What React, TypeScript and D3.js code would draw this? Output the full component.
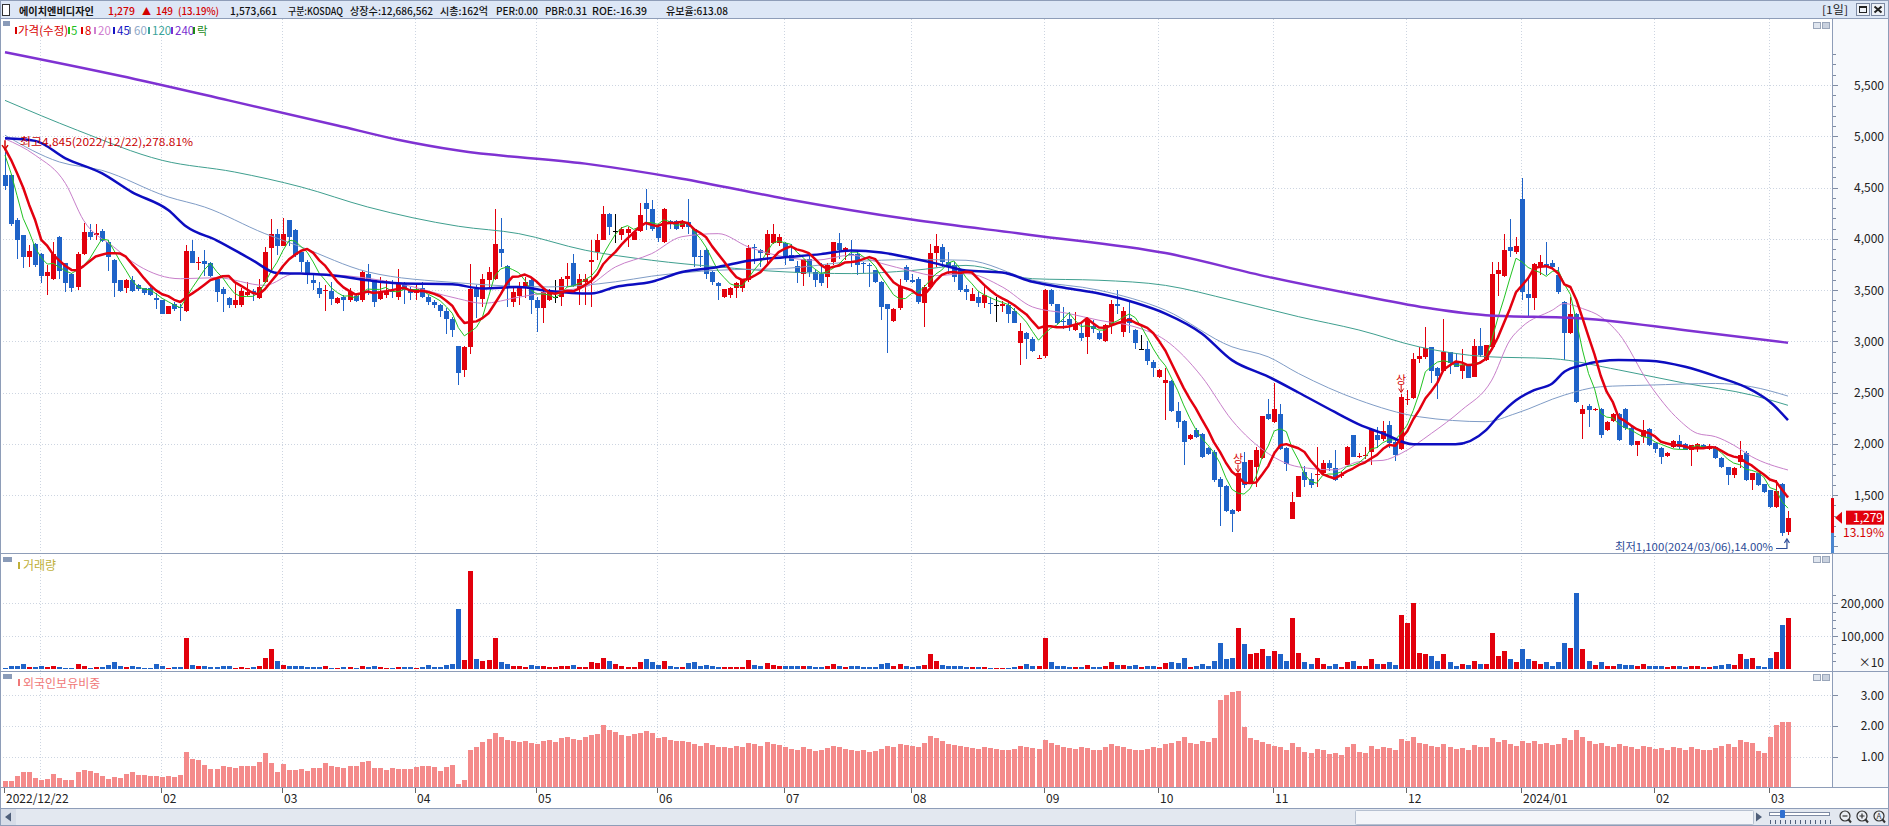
import React from "react";
import * as d3 from "d3";

const W = 1889;
const H = 826;
const F = "'Noto Sans CJK KR','Noto Sans',sans-serif";

// daily candles [open, high, low, close], 2022/12/22 .. 2024/03/07
const ohlc: [number, number, number, number][] = [
  [4620,4845,4480,4510],[4620,4630,4120,4140],[4180,4200,3800,3985],[4035,4040,3710,3823],[3823,3935,3725,3880],[3950,3955,3720,3740],[3850,3860,3565,3640],[3640,3740,3450,3680],[3610,3970,3595,3855],[4020,4025,3610,3690],
  [3760,3765,3480,3570],[3660,3665,3480,3515],[3530,3870,3500,3850],[3850,4150,3840,4065],[4065,4140,3990,4020],[4040,4140,3990,4055],[4075,4100,3970,3980],[3970,3985,3690,3823],[3790,3800,3430,3570],[3595,3600,3480,3490],
  [3515,3610,3470,3595],[3595,3640,3480,3490],[3550,3555,3490,3505],[3515,3520,3450,3470],[3515,3530,3440,3450],[3420,3470,3310,3400],[3400,3405,3270,3270],[3270,3345,3265,3340],[3360,3380,3300,3310],[3335,3365,3200,3320],
  [3295,3935,3285,3880],[3880,3985,3760,3765],[3765,3820,3700,3770],[3780,3890,3640,3755],[3760,3775,3630,3635],[3605,3625,3385,3480],[3505,3530,3290,3465],[3420,3435,3320,3350],[3350,3580,3320,3400],[3350,3520,3335,3490],
  [3450,3580,3440,3480],[3490,3510,3390,3470],[3425,3610,3415,3530],[3580,3920,3570,3870],[3905,4195,3700,4050],[4050,4100,3840,3930],[3930,4205,3925,4050],[4180,4185,3930,4020],[4090,4100,3825,3840],[3870,3875,3680,3775],
  [3775,3790,3560,3660],[3600,3660,3500,3570],[3515,3580,3420,3465],[3490,3550,3300,3500],[3495,3580,3350,3410],[3370,3430,3365,3425],[3430,3450,3300,3400],[3400,3515,3385,3480],[3440,3450,3380,3395],[3400,3695,3380,3675],
  [3660,3750,3450,3595],[3595,3600,3335,3385],[3415,3630,3400,3480],[3450,3600,3420,3490],[3495,3600,3420,3490],[3435,3705,3400,3565],[3565,3580,3360,3500],[3505,3530,3400,3470],[3470,3550,3400,3505],[3515,3580,3420,3435],
  [3435,3450,3350,3385],[3385,3400,3320,3350],[3350,3360,3240,3300],[3300,3320,3075,3220],[3220,3235,3040,3110],[2950,2955,2570,2686],[2715,2950,2650,2945],[2945,3750,2880,3505],[3505,3545,3230,3435],[3415,3660,3335,3605],
  [3595,3725,3520,3680],[3610,4295,3595,3945],[3900,4205,3725,3860],[3735,3740,3335,3530],[3385,3530,3335,3480],[3440,3580,3350,3525],[3515,3630,3420,3580],[3595,3630,3270,3400],[3405,3430,3095,3320],[3320,3530,3180,3480],
  [3405,3505,3395,3480],[3435,3595,3370,3435],[3435,3630,3345,3610],[3610,3765,3530,3640],[3760,3850,3525,3535],[3515,3660,3350,3610],[3580,3660,3350,3610],[3775,3990,3335,3790],[3870,4050,3790,3990],[3990,4315,3985,4245],
  [4245,4250,4035,4115],[4080,4245,3955,4080],[4035,4115,3990,4100],[4060,4115,3920,4100],[3990,4080,3985,4065],[4080,4345,4065,4230],[4345,4490,4085,4295],[4295,4375,4080,4100],[4115,4145,3970,4010],[3970,4300,3955,4290],
  [4175,4180,4100,4140],[4175,4180,4085,4100],[4110,4185,4100,4165],[4165,4390,4050,4115],[4100,4105,3725,3825],[3830,3890,3725,3820],[3895,3905,3610,3660],[3675,3690,3545,3580],[3570,3580,3400,3535],[3435,3510,3425,3505],
  [3450,3530,3425,3515],[3515,3580,3425,3565],[3515,3610,3480,3595],[3595,3940,3580,3905],[3920,3945,3750,3915],[3895,3900,3725,3860],[3840,4085,3740,4045],[3955,4140,3950,4050],[3955,4050,3930,4020],[3960,3965,3740,3830],
  [3840,3950,3785,3785],[3730,3785,3570,3665],[3655,3800,3540,3800],[3800,3855,3630,3680],[3680,3700,3530,3595],[3655,3760,3535,3570],[3630,3760,3520,3740],[3775,3970,3745,3970],[3960,4055,3800,3890],[3870,3920,3790,3905],
  [3850,3985,3725,3840],[3855,3870,3645,3740],[3760,3775,3665,3750],[3745,3760,3530,3735],[3695,3700,3565,3580],[3580,3585,3205,3335],[3360,3365,2890,3310],[3200,3320,3190,3310],[3320,3610,3305,3535],[3725,3740,3580,3595],
  [3600,3660,3565,3580],[3610,3630,3365,3385],[3370,3545,3140,3530],[3530,3950,3515,3860],[3860,4045,3725,3925],[3920,3950,3725,3775],[3775,3870,3660,3725],[3740,3775,3580,3630],[3695,3700,3485,3500],[3505,3545,3400,3480],
  [3395,3515,3390,3465],[3430,3480,3335,3370],[3370,3545,3320,3455],[3375,3435,3270,3360],[3350,3435,3190,3350],[3345,3390,3290,3360],[3350,3370,3175,3265],[3300,3320,3175,3180],[2980,3180,2770,3100],[3080,3090,2830,3025],
  [3025,3040,2895,2905],[2835,2865,2825,2840],[2855,3510,2840,3500],[3500,3510,3345,3360],[3360,3365,3170,3180],[3200,3335,3120,3190],[3220,3285,3100,3155],[3110,3285,3100,3155],[3085,3170,3000,3035],[3040,3235,2880,3220],
  [3150,3205,3085,3115],[3085,3100,3010,3020],[3005,3170,2995,3155],[3155,3400,3075,3360],[3360,3500,3270,3340],[3095,3335,3045,3295],[3230,3400,3080,3180],[3110,3115,2920,2980],[2920,3060,2910,2920],[2920,3000,2765,2810],
  [2800,2815,2655,2735],[2650,2730,2640,2715],[2595,2735,2230,2625],[2615,2620,2310,2320],[2320,2410,2150,2215],[2225,2230,1790,2020],[2050,2100,2040,2085],[2135,2150,2060,2070],[2100,2105,1860,1875],[1955,1970,1890,1900],
  [1920,1935,1630,1645],[1660,1680,1200,1580],[1590,1600,1330,1340],[1350,1365,1140,1315],[1340,1710,1330,1710],[1825,1920,1570,1600],[1630,1840,1615,1840],[1775,1965,1580,1940],[1860,2275,1850,2270],[2290,2440,2230,2240],
  [2215,2590,2205,2335],[2295,2390,1940,1945],[1955,1965,1730,1800],[1265,1530,1265,1435],[1485,1690,1480,1685],[1725,1780,1575,1650],[1660,1710,1570,1600],[1695,1970,1580,1705],[1710,1845,1695,1810],[1810,1845,1730,1760],
  [1760,1935,1640,1645],[1690,1720,1665,1700],[1795,1975,1790,1970],[2085,2090,1870,1875],[1875,1905,1860,1880],[1885,1970,1855,1890],[1915,2140,1790,2130],[2090,2160,1960,2040],[2050,2220,2030,2120],[2185,2220,1960,2010],
  [2020,2035,1835,1890],[1945,2490,1940,2455],[2430,2525,2380,2440],[2450,2885,2440,2830],[2830,2945,2790,2855],[2850,3135,2830,2930],[2940,2945,2590,2710],[2735,2750,2440,2660],[2710,3220,2700,2895],[2895,2900,2685,2785],
  [2800,2880,2745,2750],[2710,2925,2630,2765],[2765,2770,2640,2645],[2655,3025,2650,2950],[2950,3125,2850,2865],[2815,2965,2810,2960],[2945,3775,2930,3660],[3655,3775,3440,3695],[3635,4050,3630,3890],[3920,4195,3825,3880],
  [3870,4020,3850,3925],[4390,4590,3400,3480],[3465,3610,3240,3425],[3420,3760,3305,3750],[3725,3845,3645,3775],[3750,3965,3645,3735],[3765,3790,3705,3720],[3645,3725,3465,3480],[3385,3395,2815,3080],[3080,3430,3070,3270],
  [3270,3275,2400,2410],[2295,2375,2050,2335],[2365,2385,2165,2330],[2330,2345,2320,2335],[2335,2345,2055,2085],[2135,2220,2125,2215],[2225,2300,2215,2295],[2295,2300,2025,2035],[2335,2345,2130,2150],[2150,2160,1975,1990],
  [1990,2030,1880,2030],[2070,2235,2005,2135],[2140,2150,1980,1990],[2005,2010,1905,1945],[1955,1970,1805,1875],[1880,1915,1875,1910],[1970,2040,1955,2030],[2030,2085,1945,1965],[2000,2005,1935,1940],[1940,1985,1785,1985],
  [1955,2010,1920,1995],[1985,1995,1945,1955],[1945,2000,1940,1970],[1970,1975,1855,1865],[1865,1870,1760,1770],[1770,1775,1600,1695],[1695,1775,1665,1760],[1825,2030,1760,1890],[1910,1930,1640,1645],[1650,1715,1550,1710],
  [1710,1715,1585,1595],[1605,1610,1520,1530],[1545,1550,1375,1380],[1380,1645,1375,1540],[1610,1620,1100,1130],[1135,1340,1105,1279],
];

// volume (axis units, x10 shares)
const volume: number[] = [
  3000,10000,8000,15000,6000,5000,8000,6000,9000,5000,
  4000,3000,15000,9000,3000,5000,5000,11000,21000,8000,
  5000,8000,5000,4000,2000,15000,8000,2000,5000,5000,
  94000,11000,8000,8000,5000,5000,8000,8000,3000,5000,
  3000,5000,8000,33000,61000,23000,12000,8000,8000,8000,
  5000,5000,5000,8000,2000,3000,5000,5000,2000,8000,
  5000,8000,5000,3000,4000,5000,5000,5000,3000,5000,
  11000,5000,5000,11000,15000,182000,26000,298000,30000,23000,
  26000,94000,20000,15000,10000,8000,7000,12000,10000,9000,
  6000,6000,10000,8000,12000,6000,5000,20000,18000,35000,
  25000,15000,8000,7000,6000,20000,30000,20000,12000,25000,
  8000,6000,6000,18000,20000,8000,12000,8000,6000,5000,
  5000,5000,6000,28000,12000,8000,18000,12000,8000,10000,
  8000,8000,10000,8000,6000,6000,10000,15000,10000,6000,
  8000,8000,5000,6000,6000,15000,18000,8000,15000,10000,
  6000,10000,12000,45000,25000,12000,8000,8000,10000,5000,
  5000,5000,6000,4000,4000,4000,4000,6000,8000,15000,
  8000,8000,94000,20000,10000,8000,6000,6000,6000,12000,
  6000,5000,8000,20000,12000,12000,8000,12000,6000,10000,
  10000,5000,18000,20000,18000,35000,6000,8000,15000,8000,
  25000,80000,30000,35000,125000,75000,45000,50000,60000,40000,
  55000,45000,25000,155000,50000,20000,15000,35000,15000,10000,
  15000,5000,20000,25000,8000,8000,30000,15000,15000,20000,
  12000,165000,140000,200000,50000,45000,40000,25000,45000,20000,
  10000,15000,12000,25000,15000,15000,110000,40000,55000,30000,
  20000,60000,30000,25000,15000,20000,10000,20000,80000,65000,
  230000,60000,25000,12000,20000,10000,10000,15000,12000,12000,
  8000,15000,10000,8000,10000,5000,10000,8000,6000,10000,
  8000,5000,5000,8000,12000,15000,12000,45000,30000,33000,
  9000,5000,35000,52000,134000,155000,
];

// foreign holding ratio (%)
const foreign: number[] = [
  .22,.22,.37,.49,.49,.30,.24,.28,.43,.30,
  .24,.24,.49,.56,.53,.46,.37,.27,.33,.30,
  .43,.49,.40,.40,.37,.37,.33,.37,.33,.40,
  1.14,.91,.88,.72,.60,.60,.69,.66,.62,.69,
  .69,.69,.82,1.12,.78,.49,.75,.56,.56,.59,
  .53,.62,.62,.78,.69,.66,.62,.69,.69,.82,
  .85,.62,.62,.56,.62,.59,.59,.59,.66,.69,
  .69,.66,.53,.66,.72,.11,.24,1.20,1.30,1.46,
  1.56,1.75,1.62,1.55,1.50,1.48,1.52,1.45,1.42,1.50,
  1.55,1.48,1.60,1.65,1.58,1.55,1.62,1.70,1.72,2.02,
  1.85,1.80,1.70,1.68,1.72,1.78,1.82,1.75,1.60,1.65,
  1.55,1.50,1.52,1.48,1.40,1.35,1.45,1.38,1.30,1.32,
  1.28,1.35,1.30,1.45,1.40,1.35,1.48,1.42,1.38,1.30,
  1.25,1.22,1.30,1.25,1.18,1.20,1.28,1.35,1.30,1.25,
  1.22,1.18,1.20,1.15,1.18,1.25,1.35,1.30,1.40,1.38,
  1.35,1.30,1.45,1.68,1.60,1.50,1.42,1.38,1.35,1.30,
  1.28,1.25,1.30,1.28,1.25,1.22,1.20,1.25,1.35,1.30,
  1.28,1.25,1.55,1.45,1.38,1.30,1.28,1.25,1.32,1.28,
  1.22,1.20,1.30,1.40,1.35,1.30,1.25,1.22,1.20,1.25,
  1.30,1.28,1.40,1.45,1.50,1.62,1.45,1.40,1.52,1.48,
  1.60,2.85,3.00,3.10,3.12,1.95,1.60,1.55,1.48,1.40,
  1.35,1.30,1.20,1.45,1.30,1.15,1.10,1.25,1.20,1.08,
  1.12,1.05,1.30,1.42,1.15,1.10,1.35,1.25,1.30,1.28,
  1.20,1.58,1.52,1.62,1.45,1.40,1.35,1.30,1.42,1.32,
  1.25,1.28,1.22,1.38,1.30,1.32,1.60,1.48,1.55,1.42,
  1.35,1.52,1.45,1.50,1.40,1.45,1.38,1.42,1.60,1.55,
  1.85,1.62,1.50,1.40,1.45,1.35,1.32,1.40,1.35,1.30,
  1.25,1.35,1.30,1.25,1.28,1.22,1.30,1.28,1.22,1.30,
  1.25,1.20,1.22,1.28,1.35,1.40,1.30,1.55,1.48,1.43,
  1.17,1.10,1.65,2.03,2.11,2.11,
];

// first values of the short averages (their windows start before the chart)
const ma5Head = [4815, 4640, 4420, 4200];
const ma8Head = [4880, 4770, 4640, 4500, 4330, 4180, 3990, 3930];

// long moving averages: [day index, value]
const ma20Pts: [number, number][] = [
  [0,4975],[5,4815],[10,4540],[13,4180],[18,3920],[22,3740],[29,3610],[35,3620],[43,3545],[48,3660],[54,3650],[65,3565],[75,3415],
  [79,3370],[85,3430],[90,3480],[96,3530],[101,3725],[107,3855],[112,4020],[118,4050],[123,3920],[129,3823],[134,3790],[140,3840],[145,3760],[150,3685],
  [154,3640],[159,3660],[165,3530],[170,3335],[176,3270],[181,3205],[187,3140],[192,3010],[198,2655],[203,2230],[209,1905],[214,1775],[220,1745],[224,1825],
  [228,1838],[231,1906],[236,2101],[241,2328],[246,2621],[249,3011],[251,3141],[256,3303],[258,3368],[261,3319],[264,3240],[267,3076],[272,2588],[277,2231],
  [280,2101],[283,2069],[286,1987],[289,1874],[295,1744],
];
const ma45Pts: [number, number][] = [
  [0,4980],[5,4955],[10,4785],[16,4640],[21,4455],[27,4280],[30,4120],[35,3985],[41,3790],[45,3665],[49,3660],[54,3645],[60,3595],[65,3565],[74,3555],
  [79,3515],[85,3530],[90,3490],[97,3465],[101,3530],[107,3580],[112,3675],[118,3725],[123,3785],[129,3820],[135,3850],[140,3885],[145,3865],[150,3810],
  [154,3760],[159,3690],[165,3670],[170,3580],[176,3515],[181,3465],[187,3375],[192,3270],[198,3076],[203,2816],[209,2655],[214,2500],[220,2310],[224,2190],
  [228,2100],[233,1995],[240,1995],[245,2130],[247,2262],[250,2425],[253,2523],[256,2588],[258,2702],[261,2767],[267,2816],[272,2810],[278,2751],[283,2660],
  [289,2524],[292,2410],[295,2231],
];
const ma60Pts: [number, number][] = [
  [0,5010],[9,4749],[16,4668],[27,4408],[33,4310],[43,4050],[49,3920],[60,3677],[75,3570],
  [90,3530],[101,3580],[107,3635],[118,3693],[129,3710],[140,3775],[150,3797],
  [159,3790],[170,3595],[181,3498],[192,3303],[203,2946],[209,2848],[214,2686],[224,2426],
  [234,2263],[245,2215],[250,2296],[258,2475],[264,2556],[272,2572],[283,2588],[289,2556],[295,2465],
];
const ma120Pts: [number, number][] = [
  [0,5350],[12,5058],[26,4765],[38,4651],[49,4505],[60,4310],[75,4122],
  [85,4050],[96,3888],[107,3790],[118,3725],[129,3677],[140,3660],[150,3690],
  [159,3740],[170,3610],[181,3595],[192,3545],[203,3400],[214,3240],[224,3110],
  [234,2945],[245,2850],[256,2830],[267,2720],[278,2590],[289,2475],[295,2375],
];
const ma240Pts: [number, number][] = [
  [0,5820],[19,5590],[37,5350],[55,5105],[65,4966],[75,4860],[96,4733],[112,4586],[129,4391],[150,4187],
  [170,4035],[192,3860],[209,3628],[224,3449],[236,3319],[245,3254],[261,3222],[278,3108],[295,2985],
];

const monthLabels: [number, string][] = [
  [0,"2022/12/22"],[26,"02"],[46,"03"],[68,"04"],[88,"05"],[108,"06"],[129,"07"],[150,"08"],
  [172,"09"],[191,"10"],[210,"11"],[232,"12"],[251,"2024/01"],[273,"02"],[292,"03"],
];
const monthStarts = [6,26,46,68,88,108,129,150,172,191,210,232,251,273,292];
const priceTicks = [1500,2000,2500,3000,3500,4000,4500,5000,5500];
const volumeTicks = [100000,200000];
const foreignTicks = [1,2,3];
const upperLimitDays = [204,231];
const highDay = 0;
const lowDay = 294;

const UP = "#e2000c";
const DOWN = "#1f63c8";
const GRID = "#cdd5e1";
const FRAME = "#8e9db8";

export default function App() {
  const n = ohlc.length;
  const x = d3.scaleLinear().domain([0, n - 1]).range([5, 5 + (n - 1) * 6.044]);
  const yP = d3.scaleLinear().domain([1500, 5500]).range([495, 85]);
  const yV = d3.scaleLinear().domain([0, 200000]).range([669, 603.3]);
  const yF = d3.scaleLinear().domain([0, 3]).range([787.3, 695]);

  const closes = ohlc.map((d) => d[3]);
  const sma = (len: number, head: number[]) =>
    closes.map((_, i) =>
      i < head.length ? head[i] : (d3.mean(closes.slice(i - len + 1, i + 1)) as number)
    );
  const ma5 = sma(5, ma5Head);
  const ma8 = sma(8, ma8Head);

  const seq = d3.line<number>().x((_, i) => x(i)).y((d) => yP(d));
  const kp = d3
    .line<[number, number]>()
    .x((d) => x(d[0]))
    .y((d) => yP(d[1]))
    .curve(d3.curveMonotoneX);

  const fmt = d3.format(",");
  const px = (i: number) => Math.round(x(i));
  const colorOf = (d: [number, number, number, number]) =>
    d[3] > d[0] ? UP : d[3] < d[0] ? DOWN : "#000";

  const legend: [string, string, number, number][] = [
    ["가격(수정)", "#d80000", 15, 18],
    ["5", "#1fbf1f", 68, 71],
    ["8", "#e00000", 81, 85],
    ["20", "#d07fd0", 94, 98],
    ["45", "#1414c4", 113, 117],
    ["60", "#8fa8c8", 129, 134],
    ["120", "#3aa39a", 148, 152],
    ["240", "#7a2fd0", 171, 175],
    ["락", "#1a8a1a", 193, 197],
  ];

  const minorPrice = d3.range(1000, 5900, 100).filter((v) => yP(v) > 22 && yP(v) < 551);
  const last = closes[n - 1];
  const hiY = yP(ohlc[highDay][1]);

  return (
    <svg
      width={W}
      height={H}
      viewBox={`0 0 ${W} ${H}`}
      style={{ position: "absolute", left: 0, top: 0, background: "#fff" }}
      fontFamily={F}
    >
      <defs>
        <clipPath id="mainClip">
          <rect x={0} y={19} width={1832} height={534} />
        </clipPath>
      </defs>

      {/* header */}
      <rect x={0} y={0} width={W} height={19} fill="#dde7f6" />
      <line x1={0} x2={W} y1={18.5} y2={18.5} stroke={FRAME} />
      <rect x={2.5} y={4.5} width={7} height={11} fill="#fff" stroke="#333" />
      <g fontSize={10} fontWeight={500} fill="#111">
        <text x={19} y={14.5} textLength={75} lengthAdjust="spacingAndGlyphs" fontWeight={700}>에이치엔비디자인</text>
        <text x={108} y={14.5} fill="#d40000" textLength={27} lengthAdjust="spacingAndGlyphs">1,279</text>
        <text x={142} y={14.5} fill="#d40000" textLength={9} lengthAdjust="spacingAndGlyphs">▲</text>
        <text x={156} y={14.5} fill="#d40000" textLength={17} lengthAdjust="spacingAndGlyphs">149</text>
        <text x={178} y={14.5} fill="#d40000" textLength={41} lengthAdjust="spacingAndGlyphs">(13.19%)</text>
        <text x={230} y={14.5} textLength={47} lengthAdjust="spacingAndGlyphs">1,573,661</text>
        <text x={288} y={14.5} textLength={55} lengthAdjust="spacingAndGlyphs">구분:KOSDAQ</text>
        <text x={350} y={14.5} textLength={83} lengthAdjust="spacingAndGlyphs">상장수:12,686,562</text>
        <text x={440} y={14.5} textLength={48} lengthAdjust="spacingAndGlyphs">시총:162억</text>
        <text x={496} y={14.5} textLength={42} lengthAdjust="spacingAndGlyphs">PER:0.00</text>
        <text x={545} y={14.5} textLength={42} lengthAdjust="spacingAndGlyphs">PBR:0.31</text>
        <text x={592} y={14.5} textLength={55} lengthAdjust="spacingAndGlyphs">ROE:-16.39</text>
        <text x={666} y={14.5} textLength={62} lengthAdjust="spacingAndGlyphs">유보율:613.08</text>
      </g>
      <text x={1822} y={14} fontSize={11} fill="#222" textLength={26} lengthAdjust="spacingAndGlyphs">[1일]</text>
      <rect x={1856.5} y={3.5} width={13} height={12} fill="#eef2f8" stroke="#7d8aa3" />
      <rect x={1859.5} y={6.5} width={7} height={6} fill="none" stroke="#222" />
      <rect x={1859.5} y={6.5} width={7} height={1.5} fill="#222" />
      <rect x={1871.5} y={3.5} width={13} height={12} fill="#eef2f8" stroke="#7d8aa3" />
      <path d="M1874.5,6.5 L1881.5,12.5 M1881.5,6.5 L1874.5,12.5" stroke="#222" strokeWidth={2} />

      {/* right axis strip */}
      <rect x={1832} y={19} width={57} height={768} fill="#f7f9fc" />

      {/* horizontal grids */}
      {priceTicks.map((t) => (
        <line key={`gp${t}`} x1={0} x2={1832} y1={Math.round(yP(t)) + 0.5} y2={Math.round(yP(t)) + 0.5} stroke={GRID} strokeDasharray="1,2" />
      ))}
      {volumeTicks.map((t) => (
        <line key={`gv${t}`} x1={0} x2={1832} y1={Math.round(yV(t)) + 0.5} y2={Math.round(yV(t)) + 0.5} stroke={GRID} strokeDasharray="1,2" />
      ))}
      {foreignTicks.map((t) => (
        <line key={`gf${t}`} x1={0} x2={1832} y1={Math.round(yF(t)) + 0.5} y2={Math.round(yF(t)) + 0.5} stroke={GRID} strokeDasharray="1,2" />
      ))}
      {/* vertical month grids */}
      {monthStarts.map((i) => (
        <line key={`vm${i}`} x1={px(i) - 0.5} x2={px(i) - 0.5} y1={19} y2={787} stroke={GRID} strokeDasharray="1,2" />
      ))}

      {/* legend row */}
      <rect x={3} y={21} width={7} height={5} fill="#8a9bb8" />
      {legend.map(([label, col, bx, tx]) => (
        <g key={label}>
          <rect x={bx} y={27} width={2} height={7} fill={col} />
          <text x={tx} y={34.5} fontSize={11.5} fill={col}>{label}</text>
        </g>
      ))}
      <rect x={1813.5} y={22.5} width={7} height={6} fill="#dfe5ee" stroke="#9aa6ba" />
      <rect x={1822.5} y={22.5} width={7} height={6} fill="#c9d1de" stroke="#9aa6ba" />

      {/* candles */}
      <g clipPath="url(#mainClip)" shapeRendering="crispEdges">
        {ohlc.map((d, i) => {
          const [o, h, l, c] = d;
          const cx = px(i);
          const col = colorOf(d);
          const top = Math.round(yP(Math.max(o, c)));
          const bot = Math.round(yP(Math.min(o, c)));
          return (
            <g key={`c${i}`}>
              <line x1={cx + 0.5} x2={cx + 0.5} y1={yP(h)} y2={yP(l)} stroke={col} />
              <rect x={cx - 2} y={top} width={5} height={Math.max(1, bot - top)} fill={col} />
            </g>
          );
        })}
      </g>

      {/* moving averages */}
      <g clipPath="url(#mainClip)" fill="none" strokeLinejoin="round">
        <path d={kp(ma120Pts) || ""} stroke="#3f9f8f" strokeWidth={1} />
        <path d={kp(ma60Pts) || ""} stroke="#7f9cc6" strokeWidth={1} />
        <path d={kp(ma20Pts) || ""} stroke="#c87fca" strokeWidth={1} />
        <path d={seq(ma5) || ""} stroke="#22c322" strokeWidth={1} />
        <path d={kp(ma240Pts) || ""} stroke="#7f32d2" strokeWidth={2.5} />
        <path d={kp(ma45Pts) || ""} stroke="#0d0dc0" strokeWidth={2.5} />
        <path d={seq(ma8) || ""} stroke="#e3000f" strokeWidth={2.5} />
      </g>

      {/* upper-limit markers */}
      {upperLimitDays.map((i) => {
        const top = yP(ohlc[i][1]);
        return (
          <g key={`ul${i}`} fill="#d40000">
            <text x={x(i)} y={top - 10} fontSize={11} textAnchor="middle">상</text>
            <path d={`M${x(i)},${top - 9} V${top - 2}`} stroke="#d40000" strokeWidth={1} />
            <path d={`M${x(i) - 2.5},${top - 5} L${x(i)},${top - 1} L${x(i) + 2.5},${top - 5}`} fill="none" stroke="#d40000" />
          </g>
        );
      })}

      {/* high / low annotations */}
      <path d={`M${x(highDay)},${hiY - 12} V${hiY - 4}`} stroke="#d40000" strokeWidth={1.5} />
      <path d={`M${x(highDay) - 3},${hiY - 7} L${x(highDay)},${hiY - 3} L${x(highDay) + 3},${hiY - 7}`} fill="none" stroke="#d40000" strokeWidth={1.5} />
      <text x={20} y={hiY - 6} fontSize={11} fill="#c80000" textLength={173} lengthAdjust="spacingAndGlyphs">
        {`최고${fmt(ohlc[highDay][1])}(2022/12/22),278.81%`}
      </text>
      <text x={1615} y={551} fontSize={11} fill="#2a4a96" textLength={158} lengthAdjust="spacingAndGlyphs">
        {`최저${fmt(ohlc[lowDay][2])}(2024/03/06),14.00%`}
      </text>
      <path d={`M1776,548.5 H${x(lowDay) + 5} V540`} fill="none" stroke="#2a4a96" strokeWidth={1.2} />
      <path d={`M${x(lowDay) + 2.5},543 L${x(lowDay) + 5},539 L${x(lowDay) + 7.5},543`} fill="none" stroke="#2a4a96" strokeWidth={1.2} />

      {/* volume panel */}
      <line x1={0} x2={W} y1={553.5} y2={553.5} stroke={FRAME} />
      <rect x={3} y={557} width={9} height={5} fill="#8a9bb8" />
      <rect x={18} y={562} width={2} height={7} fill="#c0b038" />
      <text x={23} y={570} fontSize={12} fill="#c0b038">거래량</text>
      <rect x={1813.5} y={556.5} width={7} height={6} fill="#dfe5ee" stroke="#9aa6ba" />
      <rect x={1822.5} y={556.5} width={7} height={6} fill="#c9d1de" stroke="#9aa6ba" />
      <g shapeRendering="crispEdges">
        {volume.map((v, i) => (
          <rect
            key={`v${i}`}
            x={px(i) - 2}
            y={yV(v)}
            width={5}
            height={Math.max(0.5, yV(0) - yV(v))}
            fill={ohlc[i][3] >= ohlc[i][0] ? UP : DOWN}
          />
        ))}
      </g>

      {/* foreign holding panel */}
      <line x1={0} x2={W} y1={671.5} y2={671.5} stroke={FRAME} />
      <rect x={3} y={674} width={9} height={5} fill="#8a9bb8" />
      <rect x={18} y={679} width={2} height={7} fill="#f07878" />
      <text x={23} y={688} fontSize={12} fill="#f07878">외국인보유비중</text>
      <rect x={1813.5} y={674.5} width={7} height={6} fill="#dfe5ee" stroke="#9aa6ba" />
      <rect x={1822.5} y={674.5} width={7} height={6} fill="#c9d1de" stroke="#9aa6ba" />
      <g shapeRendering="crispEdges">
        {foreign.map((v, i) => (
          <rect key={`f${i}`} x={px(i) - 2} y={yF(v)} width={5} height={yF(0) - yF(v)} fill="#f48a8a" />
        ))}
      </g>
      <line x1={0} x2={W} y1={787.5} y2={787.5} stroke={FRAME} />

      {/* right axis */}
      <line x1={1832.5} x2={1832.5} y1={19} y2={787} stroke={FRAME} />
      {minorPrice.map((v) => (
        <line key={`mt${v}`} x1={1833} x2={v % 500 === 0 ? 1838 : 1836} y1={Math.round(yP(v)) + 0.5} y2={Math.round(yP(v)) + 0.5} stroke="#7f8ca3" />
      ))}
      {priceTicks.map((t) => (
        <text key={`pl${t}`} x={1884} y={yP(t) + 4.5} fontSize={12} fill="#222" textAnchor="end">{fmt(t)}</text>
      ))}
      {d3.range(25000, 250000, 25000).map((v) => (
        <line key={`vt${v}`} x1={1833} x2={v % 100000 === 0 ? 1838 : 1836} y1={Math.round(yV(v)) + 0.5} y2={Math.round(yV(v)) + 0.5} stroke="#7f8ca3" />
      ))}
      {volumeTicks.map((t) => (
        <text key={`vl${t}`} x={1884} y={yV(t) + 4.5} fontSize={12} fill="#222" textAnchor="end">{fmt(t)}</text>
      ))}
      <text x={1884} y={667} fontSize={12} fill="#222" textAnchor="end">×10</text>
      {foreignTicks.map((t) => (
        <g key={`fl${t}`}>
          <line x1={1833} x2={1838} y1={Math.round(yF(t)) + 0.5} y2={Math.round(yF(t)) + 0.5} stroke="#7f8ca3" />
          <text x={1884} y={yF(t) + 4.5} fontSize={12} fill="#222" textAnchor="end">{t.toFixed(2)}</text>
        </g>
      ))}

      {/* current price marker */}
      <rect x={1831} y={yP(1470)} width={3} height={yP(1130) - yP(1470)} fill={UP} />
      <rect x={1831} y={yP(1130)} width={3} height={553 - yP(1130)} fill="#4a86d0" />
      <path d={`M1835,${yP(last)} L1842,${yP(last) - 6} L1842,${yP(last) + 6} Z`} fill={UP} />
      <rect x={1846} y={yP(last) - 7} width={38} height={14} fill={UP} />
      <text x={1883} y={yP(last) + 4.5} fontSize={12} fill="#fff" textAnchor="end">{fmt(last)}</text>
      <text x={1884} y={yP(last) + 19} fontSize={12} fill="#d40000" textAnchor="end">13.19%</text>

      {/* x axis */}
      <rect x={0} y={788} width={1832} height={20} fill="#fff" />
      {monthLabels.map(([i, label]) => (
        <g key={`ml${i}`}>
          <line x1={px(i) - 0.5} x2={px(i) - 0.5} y1={788} y2={793} stroke="#666" />
          <text x={px(i) + 1} y={803} fontSize={12} fill="#222">{label}</text>
        </g>
      ))}

      {/* scroll bar */}
      <rect x={0} y={808} width={W} height={18} fill="#e3e8f0" />
      <line x1={0} x2={W} y1={808.5} y2={808.5} stroke={FRAME} />
      <rect x={0} y={809} width={16} height={17} fill="#d7dde8" />
      <path d="M5,817 L11,812.5 L11,821.5 Z" fill="#4f5f7a" />
      <rect x={1355.5} y={810.5} width={398} height={14} fill="#f3f5f9" stroke="#b6c0d0" rx={1} />
      <path d="M1756,812.5 L1762,817 L1756,821.5 Z" fill="#4f5f7a" />
      <rect x={1769.5} y={812.5} width={60} height={3} fill="#fff" stroke="#7d8aa3" />
      <rect x={1780} y={810} width={5} height={8} fill="#2f6fd0" rx={1} />
      {d3.range(0, 13).map((k) => (
        <line key={`sl${k}`} x1={1770.5 + k * 5} x2={1770.5 + k * 5} y1={820} y2={824} stroke="#4f5f7a" />
      ))}
      {[1845, 1862, 1879].map((cx, k) => (
        <g key={`zi${k}`} fill="none" stroke="#333" strokeWidth={1.2}>
          <circle cx={cx} cy={816} r={5} fill="#e9edf3" />
          <line x1={cx + 3.5} y1={819.5} x2={cx + 6} y2={822.5} strokeWidth={2} />
          {k === 0 && <line x1={cx - 2.5} x2={cx + 2.5} y1={816} y2={816} />}
          {k === 1 && <path d={`M${cx - 2.5},816 H${cx + 2.5} M${cx},813.5 V818.5`} />}
          {k === 2 && <text x={cx} y={819} fontSize={8} textAnchor="middle" fill="#333" stroke="none">A</text>}
        </g>
      ))}

      {/* window frame */}
      <rect x={0.5} y={0.5} width={W - 1} height={H - 1} fill="none" stroke={FRAME} />
    </svg>
  );
}
